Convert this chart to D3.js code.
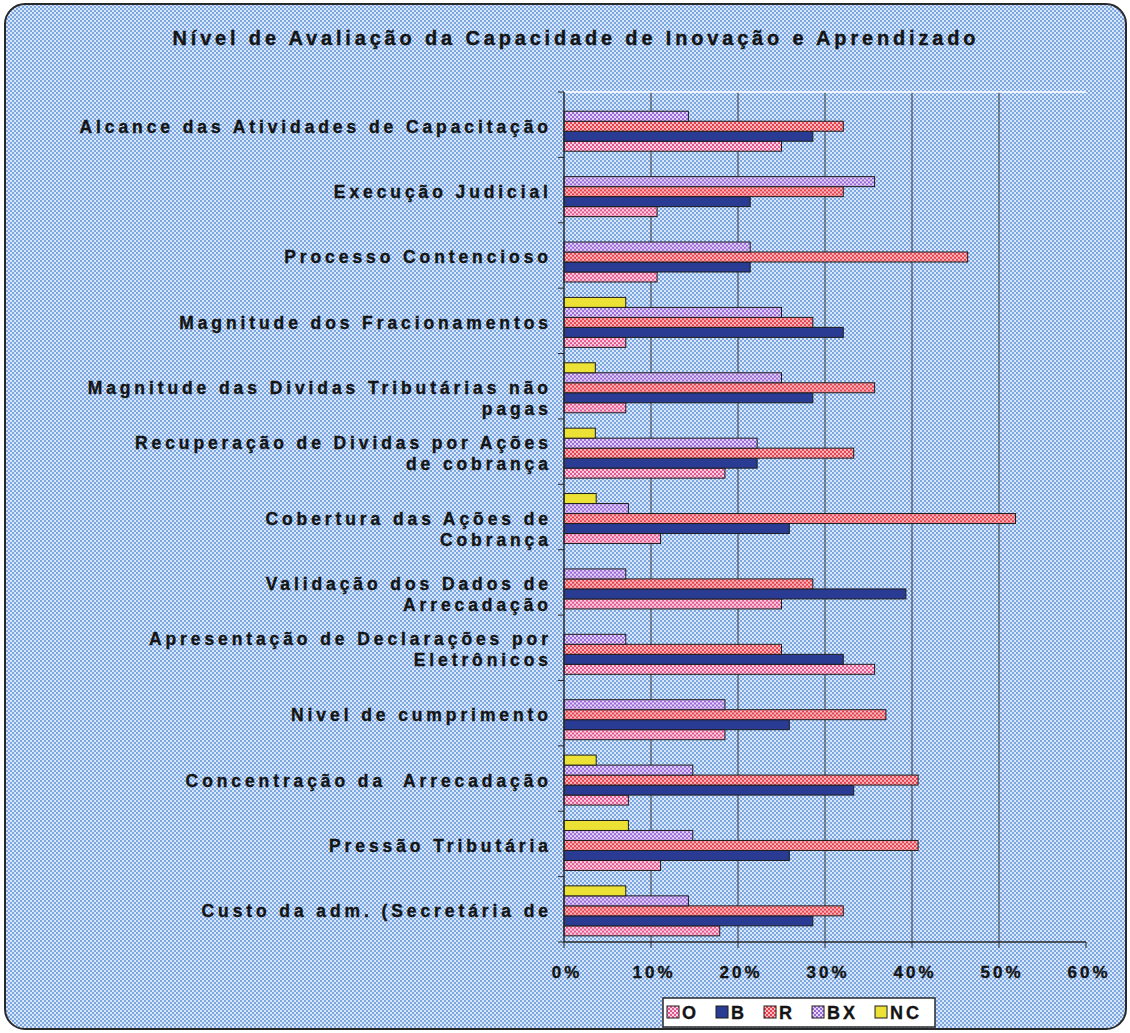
<!DOCTYPE html>
<html>
<head>
<meta charset="utf-8">
<script src="https://cdn.jsdelivr.net/npm/d3@7"></script>
<style>
  html, body { margin: 0; padding: 0; background: #ffffff; }
  svg { display: block; }
  text {
    font-family: "Liberation Sans", Arial, sans-serif; font-weight: 700;
    fill: #141414; stroke: #141414; stroke-width: 0.35px; white-space: pre;
  }
</style>
</head>
<body>
<svg id="chart" width="1130" height="1033"></svg>
<script>
// Categories, top to bottom
const categories = [
  "Alcance das Atividades de Capacitação",
  "Execução Judicial",
  "Processo Contencioso",
  "Magnitude dos Fracionamentos",
  "Magnitude das Dividas Tributárias não pagas",
  "Recuperação de Dividas por Ações de cobrança",
  "Cobertura das Ações de Cobrança",
  "Validação dos Dados de Arrecadação",
  "Apresentação de Declarações por Eletrônicos",
  "Nivel de cumprimento",
  "Concentração da  Arrecadação",
  "Pressão Tributária",
  "Custo da adm. (Secretária de"
];

// Wrapped axis label lines (an empty entry keeps a blank wrapped line)
const labelLines = [
  ["Alcance das Atividades de Capacitação"],
  ["Execução Judicial"],
  ["Processo Contencioso"],
  ["Magnitude dos Fracionamentos"],
  ["", "Magnitude das Dividas Tributárias não", "pagas"],
  ["Recuperação de Dividas por Ações", "de cobrança"],
  ["", "Cobertura das Ações de", "Cobrança"],
  ["", "Validação dos Dados de", "Arrecadação"],
  ["Apresentação de Declarações por", "Eletrônicos"],
  ["Nivel de cumprimento"],
  ["Concentração da  Arrecadação"],
  ["Pressão Tributária"],
  ["Custo da adm. (Secretária de"]
];

// Series (percent of answers)
const seriesNames = ["O", "B", "R", "BX", "NC"];
const valuesO  = [25.0, 10.7, 10.7,  7.1,  7.1, 18.5, 11.1, 25.0, 35.7, 18.5,  7.4, 11.1, 17.9];
const valuesB  = [28.6, 21.4, 21.4, 32.1, 28.6, 22.2, 25.9, 39.3, 32.1, 25.9, 33.3, 25.9, 28.6];
const valuesR  = [32.1, 32.1, 46.4, 28.6, 35.7, 33.3, 51.9, 28.6, 25.0, 37.0, 40.7, 40.7, 32.1];
const valuesBX = [14.3, 35.7, 21.4, 25.0, 25.0, 22.2,  7.4,  7.1,  7.1, 18.5, 14.8, 14.8, 14.3];
const valuesNC = [ 0.0,  0.0,  0.0,  7.1,  3.6,  3.6,  3.7,  0.0,  0.0,  0.0,  3.7,  7.4,  7.1];
const xTickValues = [0, 10, 20, 30, 40, 50, 60];

const seriesValues = { O: valuesO, B: valuesB, R: valuesR, BX: valuesBX, NC: valuesNC };

const svg = d3.select("#chart");
const defs = svg.append("defs");

// Checkered halftone fills
function checker(id, dark, light, size) {
  const p = defs.append("pattern")
    .attr("id", id).attr("patternUnits", "userSpaceOnUse")
    .attr("width", size * 2).attr("height", size * 2);
  p.append("rect").attr("width", size * 2).attr("height", size * 2).attr("fill", light);
  p.append("rect").attr("width", size).attr("height", size).attr("fill", dark);
  p.append("rect").attr("x", size).attr("y", size).attr("width", size).attr("height", size).attr("fill", dark);
}
checker("bgPat", "#7ca7e1", "#d9e7f8", 2);
checker("patO", "#e2558f", "#fbd3e3", 2);
checker("patR", "#e6404f", "#f8bcc0", 2);
checker("patBX", "#9a68d6", "#e4d6f7", 2);

const fills = { O: "url(#patO)", B: "#2a3b93", R: "url(#patR)", BX: "url(#patBX)", NC: "#ece235" };

// Frame
svg.append("rect")
  .attr("x", 5).attr("y", 4).attr("width", 1121).attr("height", 1025)
  .attr("rx", 20).attr("ry", 20)
  .attr("fill", "url(#bgPat)")
  .attr("stroke", "#2a2a2a").attr("stroke-width", 2);

// Title
svg.append("text")
  .attr("x", 574).attr("y", 45)
  .attr("text-anchor", "middle")
  .attr("font-size", 20)
  .attr("textLength", 803)
  .attr("lengthAdjust", "spacing")
  .text("Nível de Avaliação da Capacidade de Inovação e Aprendizado");

// Scales
const plot = { left: 564, right: 1086, top: 92, bottom: 942 };
const x = d3.scaleLinear().domain([0, 60]).range([plot.left, plot.right]);
const y = d3.scaleBand().domain(categories).range([plot.top, plot.bottom]).padding(0);
const slot = d3.scaleBand()
  .domain(["NC", "BX", "R", "B", "O"])
  .range([0, y.bandwidth()])
  .paddingInner(0).paddingOuter(0.77).align(0.6);

// Gridlines
svg.append("g").selectAll("line")
  .data(xTickValues.filter(d => d > 0 && d < 60))
  .join("line")
  .attr("x1", d => x(d)).attr("x2", d => x(d))
  .attr("y1", plot.top).attr("y2", plot.bottom)
  .attr("stroke", "#3a3a3a").attr("stroke-width", 1);

// Top border of plot area
svg.append("line")
  .attr("x1", plot.left).attr("x2", plot.right)
  .attr("y1", plot.top).attr("y2", plot.top)
  .attr("stroke", "#ffffff").attr("stroke-width", 1.5);

// Bars
const rows = categories.map((c, i) => ({ c, i }));
const groups = svg.append("g").selectAll("g")
  .data(rows).join("g")
  .attr("transform", d => `translate(0,${y(d.c)})`);

groups.selectAll("rect")
  .data(d => seriesNames.map(s => ({ s, v: seriesValues[s][d.i] })).filter(e => e.v > 0))
  .join("rect")
  .attr("x", x(0))
  .attr("y", e => slot(e.s))
  .attr("width", e => x(e.v) - x(0))
  .attr("height", slot.bandwidth())
  .attr("fill", e => fills[e.s])
  .attr("stroke", "#1d1d1d").attr("stroke-width", 1);

// Category axis
const yAxisG = svg.append("g");
yAxisG.append("line")
  .attr("x1", plot.left).attr("x2", plot.left)
  .attr("y1", plot.top).attr("y2", plot.bottom)
  .attr("stroke", "#2a2a2a").attr("stroke-width", 1.5);
const boundaries = categories.map(c => y(c)).concat([plot.bottom]);
yAxisG.selectAll("line.tick")
  .data(boundaries).join("line").attr("class", "tick")
  .attr("x1", plot.left - 6).attr("x2", plot.left)
  .attr("y1", d => d).attr("y2", d => d)
  .attr("stroke", "#2a2a2a").attr("stroke-width", 1);

const labelSpacing = 3.9;
const lineH = 21;
const labelG = svg.append("g");
rows.forEach(r => {
  const lines = labelLines[r.i];
  const cy = y(r.c) + y.bandwidth() / 2;
  lines.forEach((ln, k) => {
    if (!ln) return;
    labelG.append("text")
      .attr("x", 548 + labelSpacing)
      .attr("y", cy + (k - (lines.length - 1) / 2) * lineH + 8)
      .attr("text-anchor", "end")
      .attr("font-size", 17.5)
      .attr("letter-spacing", labelSpacing)
      .text(ln);
  });
});

// Value axis
const xAxisG = svg.append("g");
xAxisG.append("line")
  .attr("x1", plot.left).attr("x2", plot.right)
  .attr("y1", plot.bottom).attr("y2", plot.bottom)
  .attr("stroke", "#2a2a2a").attr("stroke-width", 1.5);
xAxisG.selectAll("line.tick")
  .data(xTickValues).join("line").attr("class", "tick")
  .attr("x1", d => x(d)).attr("x2", d => x(d))
  .attr("y1", plot.bottom).attr("y2", plot.bottom + 6)
  .attr("stroke", "#2a2a2a").attr("stroke-width", 1);
xAxisG.selectAll("text")
  .data(xTickValues).join("text")
  .attr("x", d => x(d) + 3)
  .attr("y", 978)
  .attr("text-anchor", "middle")
  .attr("font-size", 17)
  .attr("letter-spacing", 3)
  .text(d => d + "%");

// Legend
const legend = svg.append("g");
legend.append("rect")
  .attr("x", 663).attr("y", 998).attr("width", 272).attr("height", 29)
  .attr("fill", "#ffffff").attr("stroke", "#2a2a2a").attr("stroke-width", 1.5);
let lx = 667;
seriesNames.forEach(s => {
  legend.append("rect")
    .attr("x", lx).attr("y", 1006).attr("width", 12).attr("height", 12)
    .attr("fill", fills[s]).attr("stroke", "#1d1d1d").attr("stroke-width", 1);
  const t = legend.append("text")
    .attr("x", lx + 15).attr("y", 1019)
    .attr("font-size", 18)
    .attr("letter-spacing", 3)
    .text(s);
  lx += 15 + t.node().getComputedTextLength() + 17;
});
</script>
</body>
</html>
